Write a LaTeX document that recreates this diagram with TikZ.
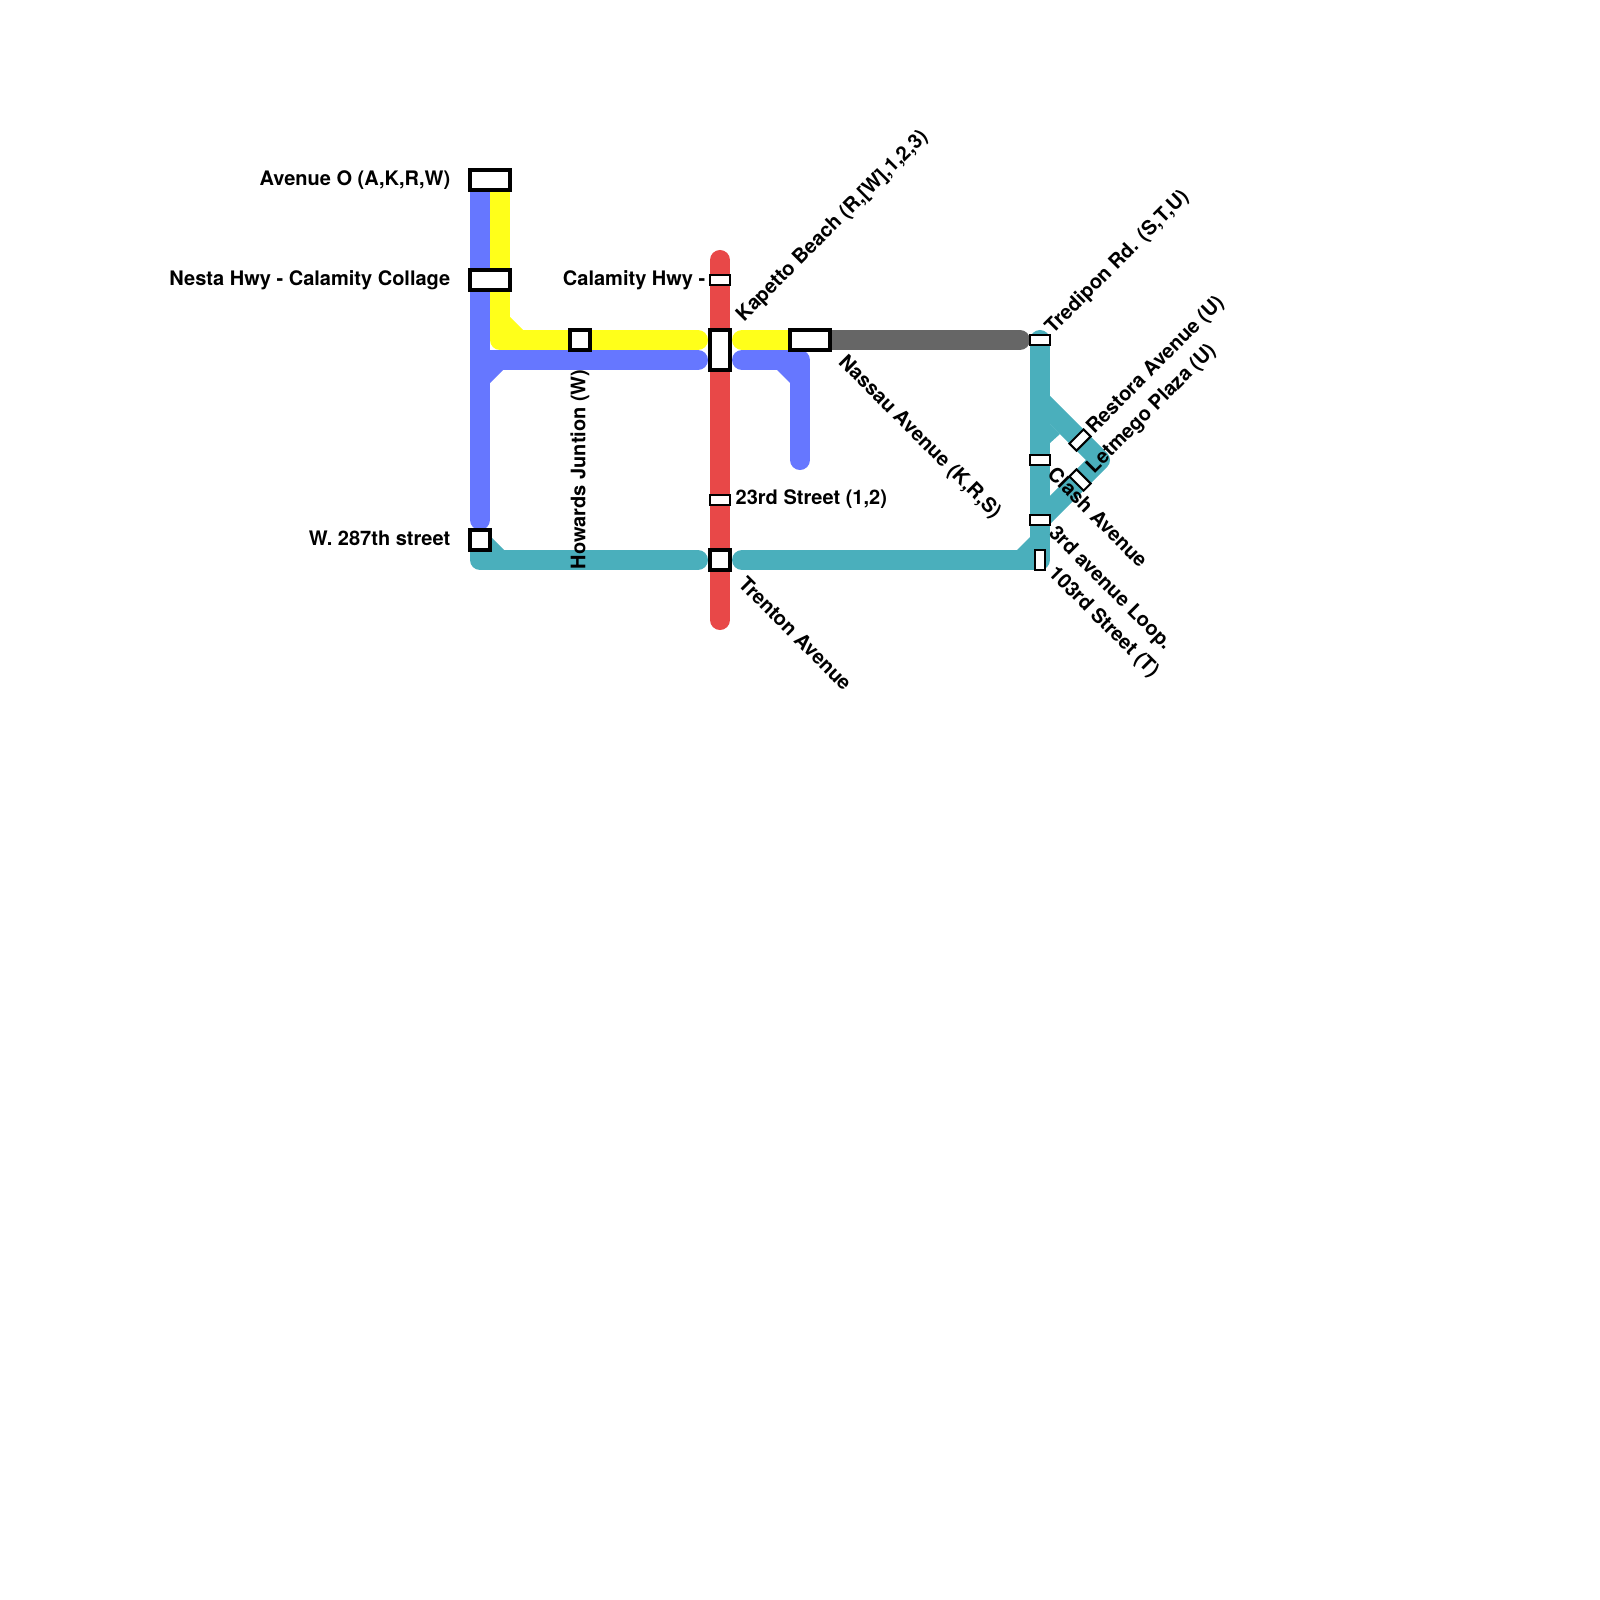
\documentclass[tikz,border=0pt]{standalone}
\usepackage{fontspec}
\setmainfont{TeX Gyre Heros}
\definecolor{lineblue}{HTML}{6677FF}
\definecolor{lineyellow}{HTML}{FFFF1A}
\definecolor{linered}{HTML}{E84848}
\definecolor{lineteal}{HTML}{4AAFBC}
\definecolor{linegray}{HTML}{666666}
\tikzset{
  metro/.style={line width=0.2cm, line cap=round, line join=round},
  stnbig/.style={draw=black, fill=white, line width=0.04cm, inner sep=0pt, outer sep=0pt},
  stnsmall/.style={draw=black, fill=white, line width=0.02cm, inner sep=0pt, outer sep=0pt},
  stnlabel/.style={font=\bfseries\fontsize{5.69pt}{7pt}\selectfont, inner sep=0pt, text=black}
}
\begin{document}
\begin{tikzpicture}[x=0.01cm, y=-0.01cm]
    \useasboundingbox (0,0) rectangle (1600,1600);

    % line ends
    \coordinate (blueTop) at (480,180);
    \coordinate (blueEnd) at (480,520);
    \coordinate (blueJoin) at (480,360);
    \coordinate (blueMidL) at (698,360);
    \coordinate (blueMidR) at (742,360);
    \coordinate (blueBend) at (800,360);
    \coordinate (blueDown) at (800,460);
    \coordinate (yellowTop) at (500,180);
    \coordinate (yellowBend) at (500,340);
    \coordinate (yellowMidL) at (698,340);
    \coordinate (yellowMidR) at (742,340);
    \coordinate (yellowEnd) at (800,340);
    \coordinate (redTop) at (720,260);
    \coordinate (redEnd) at (720,620);
    \coordinate (grayStart) at (820,340);
    \coordinate (grayEnd) at (1020,340);
    \coordinate (tealStart) at (480,540);
    \coordinate (tealBend) at (480,560);
    \coordinate (tealMidL) at (698,560);
    \coordinate (tealMidR) at (742,560);
    \coordinate (tealCorner) at (1040,560);
    \coordinate (tealTop) at (1040,340);
    \coordinate (tealFork) at (1040,400);
    \coordinate (tealTip) at (1100,460);
    \coordinate (tealBack) at (1040,520);

    % lines
    \draw[metro, lineblue] (blueTop) -- (blueEnd);
    \draw[metro, lineblue] (blueJoin) -- (blueMidL);
    \draw[metro, lineblue] (blueMidR) -- (blueBend) -- (blueDown);
    \fill[lineblue] (490,383) -- (503,370) -- (490,370) -- cycle;
    \fill[lineblue] (777,370) -- (790,383) -- (790,370) -- cycle;
    \draw[metro, lineyellow] (yellowTop) -- (yellowBend) -- (yellowMidL);
    \draw[metro, lineyellow] (yellowMidR) -- (yellowEnd);
    \fill[lineyellow] (510,317) -- (523,330) -- (510,330) -- cycle;
    \draw[metro, linegray] (grayStart) -- (grayEnd);
    \draw[metro, linered] (redTop) -- (redEnd);
    \draw[metro, lineteal] (tealStart) -- (tealBend) -- (tealMidL);
    \draw[metro, lineteal] (tealMidR) -- (tealCorner) -- (tealTop);
    \draw[metro, lineteal] (tealFork) -- (tealTip) -- (tealBack);
    \fill[lineteal] (490,536) -- (504,550) -- (490,550) -- cycle;
    \fill[lineteal] (1017,550) -- (1030,537) -- (1030,550) -- cycle;
    \fill[lineteal] (1050,443) -- (1060,434) -- (1050,424) -- cycle;

    % stations
    \node[stnbig, minimum width=0.4cm, minimum height=0.2cm] (aveO) at (490,180) {};
    \node[stnbig, minimum width=0.4cm, minimum height=0.2cm] (nesta) at (490,280) {};
    \node[stnbig, minimum width=0.2cm, minimum height=0.2cm] (howards) at (580,340) {};
    \node[stnbig, minimum width=0.2cm, minimum height=0.4cm] (kapetto) at (720,350) {};
    \node[stnbig, minimum width=0.4cm, minimum height=0.2cm] (nassau) at (810,340) {};
    \node[stnbig, minimum width=0.2cm, minimum height=0.2cm] (trenton) at (720,560) {};
    \node[stnbig, minimum width=0.2cm, minimum height=0.2cm] (west) at (480,540) {};
    \node[stnsmall, minimum width=0.2cm, minimum height=0.1cm] (calamity) at (720,280) {};
    \node[stnsmall, minimum width=0.2cm, minimum height=0.1cm] (third) at (720,500) {};
    \node[stnsmall, minimum width=0.2cm, minimum height=0.1cm] (tredipon) at (1040,340) {};
    \node[stnsmall, minimum width=0.2cm, minimum height=0.1cm] (clash) at (1040,460) {};
    \node[stnsmall, minimum width=0.2cm, minimum height=0.1cm] (loop) at (1040,520) {};
    \node[stnsmall, minimum width=0.1cm, minimum height=0.2cm] (hundred) at (1040,560) {};
    \node[stnsmall, minimum width=0.2cm, minimum height=0.1cm, rotate=45] (restora) at (1080,440) {};
    \node[stnsmall, minimum width=0.2cm, minimum height=0.1cm, rotate=-45] (letmego) at (1080,480) {};

    % labels
    \node[stnlabel, anchor=east] (lblAveO) at (451,180) {Avenue O (A,K,R,W)};
    \node[stnlabel, anchor=east] (lblNesta) at (451,280) {Nesta Hwy - Calamity Collage};
    \node[stnlabel, anchor=east] (lblWest) at (451,538) {W. 287th street};
    \node[stnlabel, anchor=east] (lblCalamity) at (706,280) {Calamity Hwy -};
    \node[stnlabel, anchor=west] (lblThird) at (735,499) {23rd Street (1,2)};
    \node[stnlabel, anchor=west, rotate=90] (lblHowards) at (580,570) {Howards Juntion (W)};
    \node[stnlabel, anchor=west, rotate=45] (lblKapetto) at (740,319) {Kapetto Beach (R,[W],1,2,3)};
    \node[stnlabel, anchor=west, rotate=45] (lblTredipon) at (1049,331) {Tredipon Rd. (S,T,U)};
    \node[stnlabel, anchor=west, rotate=45] (lblRestora) at (1090,431) {Restora Avenue (U)};
    \node[stnlabel, anchor=west, rotate=45] (lblLetmego) at (1090,471) {Letmego Plaza (U)};
    \node[stnlabel, anchor=west, rotate=-45] (lblNassau) at (841,359) {Nassau Avenue (K,R,S)};
    \node[stnlabel, anchor=west, rotate=-45] (lblTrenton) at (742,580) {Trenton Avenue};
    \node[stnlabel, anchor=west, rotate=-45] (lblClash) at (1051,470) {Clash Avenue};
    \node[stnlabel, anchor=west, rotate=-45] (lblLoop) at (1051,530) {3rd avenue Loop.};
    \node[stnlabel, anchor=west, rotate=-45] (lblHundred) at (1051,570) {103rd Street (T)};
\end{tikzpicture}
\end{document}
